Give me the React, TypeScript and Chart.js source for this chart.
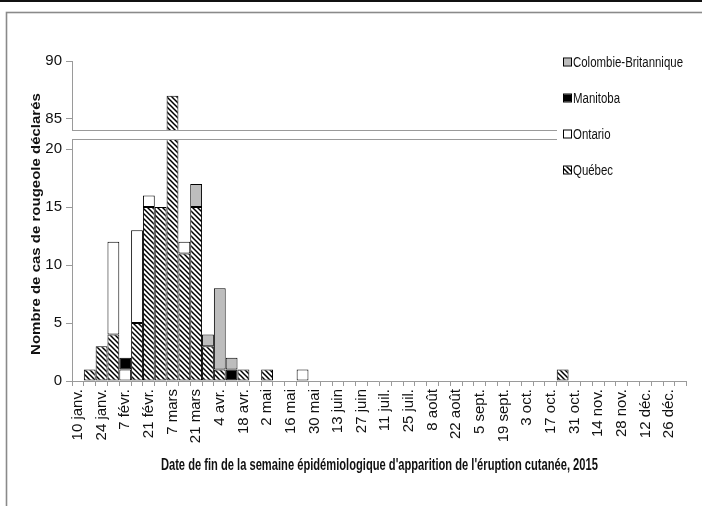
import React, { useEffect, useRef } from 'react';
import { Chart, registerables } from 'chart.js';

Chart.register(...registerables);

// ---- data ----
const weekLabels = [
  '10 janv.', '17 janv.', '24 janv.', '31 janv.', '7 févr.', '14 févr.', '21 févr.', '28 févr.',
  '7 mars', '14 mars', '21 mars', '28 mars', '4 avr.', '11 avr.', '18 avr.', '25 avr.',
  '2 mai', '9 mai', '16 mai', '23 mai', '30 mai', '6 juin', '13 juin', '20 juin', '27 juin',
  '4 juil.', '11 juil.', '18 juil.', '25 juil.', '1 août', '8 août', '15 août', '22 août', '29 août',
  '5 sept.', '12 sept.', '19 sept.', '26 sept.', '3 oct.', '10 oct.', '17 oct.', '24 oct.', '31 oct.',
  '7 nov.', '14 nov.', '21 nov.', '28 nov.', '5 déc.', '12 déc.', '19 déc.', '26 déc.', '2 janv.'
];

const quebec = [
  0, 1, 3, 4, 0, 5, 15, 15, 87, 11, 15, 3, 1, 0, 1, 0, 1, 0, 0, 0,
  0, 0, 0, 0, 0, 0, 0, 0, 0, 0, 0, 0, 0, 0, 0, 0, 0, 0, 0, 0,
  0, 1, 0, 0, 0, 0, 0, 0, 0, 0, 0, 0
];
const ontario = [
  0, 0, 0, 8, 1, 8, 1, 0, 0, 1, 0, 0, 0, 0, 0, 0, 0, 0, 0, 1,
  0, 0, 0, 0, 0, 0, 0, 0, 0, 0, 0, 0, 0, 0, 0, 0, 0, 0, 0, 0,
  0, 0, 0, 0, 0, 0, 0, 0, 0, 0, 0, 0
];
const manitoba = [
  0, 0, 0, 0, 1, 0, 0, 0, 0, 0, 0, 0, 0, 1, 0, 0, 0, 0, 0, 0,
  0, 0, 0, 0, 0, 0, 0, 0, 0, 0, 0, 0, 0, 0, 0, 0, 0, 0, 0, 0,
  0, 0, 0, 0, 0, 0, 0, 0, 0, 0, 0, 0
];
const colombieBritannique = [
  0, 0, 0, 0, 0, 0, 0, 0, 0, 0, 2, 1, 7, 1, 0, 0, 0, 0, 0, 0,
  0, 0, 0, 0, 0, 0, 0, 0, 0, 0, 0, 0, 0, 0, 0, 0, 0, 0, 0, 0,
  0, 0, 0, 0, 0, 0, 0, 0, 0, 0, 0, 0
];

const lowerTicks = [0, 5, 10, 15, 20];
const upperTicks = [85, 90];
const lowerRange = [0, 20.8];
const upperRange = [83.2, 90];
const breakValue = 84;

const yTitle = 'Nombre de cas de rougeole déclarés';
const xTitle = "Date de fin de la semaine épidémiologique d'apparition de l'éruption cutanée, 2015";

const FONT = '"Liberation Sans", Arial, Helvetica, sans-serif';
const AXIS_GREY = '#9a9a9a';

function makeHatch(): CanvasPattern {
  const t = 5;
  const c = document.createElement('canvas');
  c.width = t;
  c.height = t;
  const p = c.getContext('2d')!;
  p.fillStyle = '#ffffff';
  p.fillRect(0, 0, t, t);
  p.strokeStyle = '#000000';
  p.lineWidth = 1.5;
  p.beginPath();
  for (const x0 of [-t, 0, t]) {
    p.moveTo(x0 - 1, -1);
    p.lineTo(x0 + t + 1, t + 1);
  }
  p.stroke();
  return p.createPattern(c, 'repeat')!;
}

const decorPlugin = {
  id: 'decor',
  beforeDraw(chart: any) {
    const { ctx, width, height } = chart;
    ctx.save();
    ctx.fillStyle = '#ffffff';
    ctx.fillRect(0, 0, width, height);
    ctx.fillStyle = '#111111';
    ctx.fillRect(0, 0, width, 2);
    ctx.strokeStyle = '#8a8a8a';
    ctx.lineWidth = 1.6;
    ctx.strokeRect(6.5, 12.5, width + 20, height + 20);
    ctx.restore();
  },
  beforeDatasetDraw(chart: any, args: any) {
    const { ctx, chartArea } = chart;
    const ys = chart.scales[args.meta.yAxisID];
    ctx.save();
    ctx.beginPath();
    ctx.rect(chartArea.left, ys.top, chartArea.right - chartArea.left, ys.bottom - ys.top);
    ctx.clip();
  },
  afterDatasetDraw(chart: any) {
    chart.ctx.restore();
  },
  afterDatasetsDraw(chart: any) {
    const { ctx, chartArea } = chart;
    const top = chart.scales.yTop;
    const low = chart.scales.y;
    const yA = Math.round(top.getPixelForValue(breakValue)) - 0.5;
    const yB = Math.round(low.top) - 0.5;
    const x0 = chartArea.left - 1;
    const x1 = 557;
    ctx.save();
    ctx.fillStyle = '#ffffff';
    ctx.fillRect(x0 - 1, yA, x1 - x0 + 1, yB - yA);
    ctx.strokeStyle = AXIS_GREY;
    ctx.lineWidth = 1.2;
    ctx.beginPath();
    ctx.moveTo(chartArea.left, yA);
    ctx.lineTo(x1, yA);
    ctx.moveTo(chartArea.left, yB);
    ctx.lineTo(x1, yB);
    ctx.stroke();
    ctx.restore();
  },
  afterDraw(chart: any) {
    const { ctx, chartArea } = chart;
    ctx.save();
    // x title
    ctx.fillStyle = '#111111';
    ctx.font = `bold 17px ${FONT}`;
    const w = ctx.measureText(xTitle).width;
    const sx = 437 / w;
    ctx.save();
    ctx.translate((chartArea.left + chartArea.right) / 2, 470);
    ctx.scale(sx, 1);
    ctx.textAlign = 'center';
    ctx.textBaseline = 'alphabetic';
    ctx.fillText(xTitle, 0, 0);
    ctx.restore();
    // y title
    ctx.save();
    ctx.font = `bold 15px ${FONT}`;
    ctx.translate(36, (chartArea.top + chartArea.bottom) / 2 + 3);
    ctx.scale(0.85, 1);
    ctx.rotate(-Math.PI / 2);
    ctx.textAlign = 'center';
    ctx.textBaseline = 'middle';
    ctx.fillText(yTitle, 0, 0);
    ctx.restore();
    // legend
    const items = chart.data.datasets.filter((d: any) => d.yAxisID === 'y').slice().reverse();
    ctx.font = `14px ${FONT}`;
    const lsx = 110 / ctx.measureText('Colombie-Britannique').width;
    items.forEach((d: any, i: number) => {
      const cy = 62 + i * 36;
      ctx.fillStyle = d.backgroundColor;
      ctx.fillRect(564, cy - 3.5, 7, 7);
      ctx.strokeStyle = '#000000';
      ctx.lineWidth = 1;
      ctx.strokeRect(563.5, cy - 4, 8, 8);
      ctx.save();
      ctx.translate(573, cy);
      ctx.scale(lsx, 1);
      ctx.fillStyle = '#111111';
      ctx.textAlign = 'left';
      ctx.textBaseline = 'middle';
      ctx.fillText(d.label, 0, 1);
      ctx.restore();
    });
    ctx.restore();
  }
};

export default function App() {
  const ref = useRef<HTMLCanvasElement>(null);

  useEffect(() => {
    const canvas = ref.current!;
    const hatch = makeHatch();
    const series = [
      { label: 'Québec', data: quebec, bg: hatch },
      { label: 'Ontario', data: ontario, bg: '#ffffff' },
      { label: 'Manitoba', data: manitoba, bg: '#000000' },
      { label: 'Colombie-Britannique', data: colombieBritannique, bg: '#bdbdbd' }
    ];
    const datasets: any[] = [];
    for (const axis of ['y', 'yTop']) {
      for (const s of series) {
        datasets.push({
          label: s.label,
          data: s.data.map((v) => (v === 0 ? null : v)),
          backgroundColor: s.bg,
          borderColor: '#000000',
          borderWidth: 1,
          borderSkipped: false,
          inflateAmount: 0,
          barPercentage: 1,
          categoryPercentage: 1,
          xAxisID: 'x',
          yAxisID: axis
        });
      }
    }

    const tickFont = { family: FONT, size: 15 };
    const yCommon = (weight: number, order: number, range: number[], ticksArr: number[]) => ({
      type: 'linear' as const,
      position: 'left' as const,
      stack: 'v',
      stackWeight: weight,
      weight: order,
      stacked: true,
      min: range[0],
      max: range[1],
      afterBuildTicks: (s: any) => {
        s.ticks = ticksArr.map((v) => ({ value: v }));
      },
      afterFit: (s: any) => {
        s.width = 72;
      },
      grid: { drawOnChartArea: false, drawTicks: true, tickLength: 6, color: AXIS_GREY },
      border: { display: true, color: AXIS_GREY, width: 1 },
      ticks: { font: tickFont, color: '#111111', padding: 4 }
    });

    const chart = new Chart(canvas, {
      type: 'bar',
      data: { labels: weekLabels, datasets },
      options: {
        responsive: false,
        animation: false,
        devicePixelRatio: 1,
        events: [],
        layout: { padding: { top: 61, right: 12, left: 0, bottom: 0 } },
        plugins: { legend: { display: false }, tooltip: { enabled: false }, title: { display: false } },
        scales: {
          x: {
            type: 'category',
            stacked: true,
            offset: true,
            afterFit: (s: any) => {
              s.height = 125;
            },
            grid: { display: true, offset: true, drawOnChartArea: false, drawTicks: true, tickLength: 5, color: AXIS_GREY },
            border: { display: true, color: AXIS_GREY, width: 1 },
            ticks: {
              autoSkip: false,
              minRotation: 90,
              maxRotation: 90,
              padding: 3,
              font: { family: FONT, size: 15 },
              color: '#111111',
              callback: (_v: any, i: number) => (i % 2 === 0 ? weekLabels[i] : '')
            }
          },
          y: yCommon(lowerRange[1] - lowerRange[0], 0, lowerRange, lowerTicks),
          yTop: yCommon(upperRange[1] - upperRange[0], 1, upperRange, upperTicks)
        }
      } as any,
      plugins: [decorPlugin]
    });
    return () => chart.destroy();
  }, []);

  return (
    <div style={{ position: 'fixed', left: 0, top: 0, width: 702, height: 506, background: '#fff' }}>
      <canvas ref={ref} width={702} height={506} style={{ display: 'block', width: '702px', height: '506px' }} />
    </div>
  );
}
